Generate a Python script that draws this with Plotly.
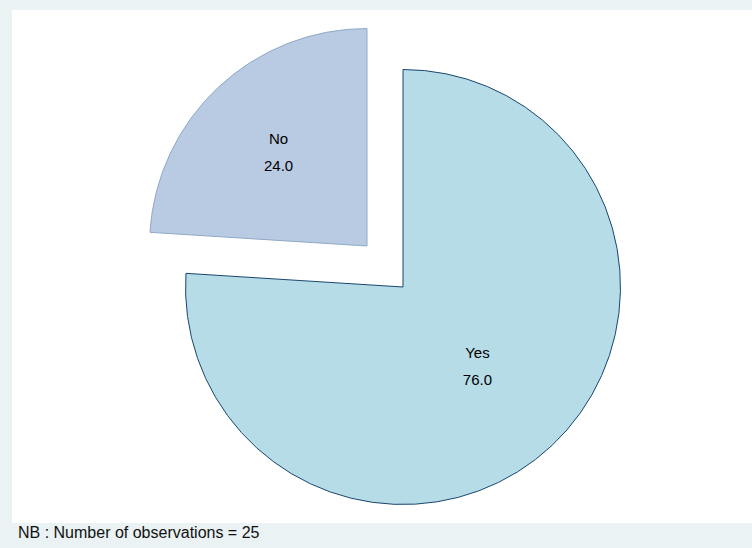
import plotly.graph_objects as go

# ---- data ----
labels = ["Yes", "No"]
values = [76.0, 24.0]
n_obs = 25
caption = f"NB : Number of observations = {n_obs}"

# ---- styles ----
fill_colors = ["#b6dce7", "#b8cbe2"]
line_colors = ["#1a476f", "#8fa9c7"]
transparent = "rgba(0,0,0,0)"
W, H = 752, 548
FONT = "Liberation Sans, Arial, Helvetica, sans-serif"

# slice geometry (pixels): centre and radius of each drawn slice
# Yes slice in place, No slice exploded up-left
centres = {"Yes": (403, 287), "No": (367, 246)}
radius = 217.5


def domain_for(cx, cy, r):
    return dict(
        x=[(cx - r) / W, (cx + r) / W],
        y=[(H - cy - r) / H, (H - cy + r) / H],
    )


label_tpl = ("<span style='font-size:15px'>%{label}</span><br>"
             "<span style='font-size:15px'>%{value:.1f}</span>")

fig = go.Figure()
for i, lab in enumerate(labels):
    colors = [fill_colors[j] if j == i else transparent for j in range(len(labels))]
    lcolors = [line_colors[j] if j == i else transparent for j in range(len(labels))]
    lwidths = [1 if j == i else 0 for j in range(len(labels))]
    tpls = [label_tpl if j == i else "" for j in range(len(labels))]
    cx, cy = centres[lab]
    fig.add_trace(go.Pie(
        labels=labels,
        values=values,
        sort=False,
        direction="clockwise",
        rotation=0,
        marker=dict(colors=colors, line=dict(color=lcolors, width=lwidths)),
        texttemplate=tpls,
        textposition="inside",
        insidetextorientation="horizontal",
        textfont=dict(family=FONT, size=21, color="#000000"),
        hoverinfo="label+value",
        domain=domain_for(cx, cy, radius),
        showlegend=False,
    ))

fig.update_layout(
    width=W,
    height=H,
    margin=dict(l=0, r=0, t=0, b=0),
    paper_bgcolor="#eaf2f3",
    showlegend=False,
    shapes=[dict(
        type="rect", xref="paper", yref="paper",
        x0=12 / W, x1=1, y0=(H - 523) / H, y1=(H - 10) / H,
        fillcolor="#ffffff", line=dict(width=0), layer="below",
    )],
    annotations=[dict(
        text=caption, xref="paper", yref="paper",
        x=16 / W, y=(H - 532) / H, xanchor="left", yanchor="middle",
        showarrow=False, font=dict(family=FONT, size=16, color="#111111"),
    )],
)

fig.write_html(
    "out.html",
    config={"displayModeBar": False},
    post_script="document.body.style.margin='0';document.body.style.overflow='hidden';",
)
